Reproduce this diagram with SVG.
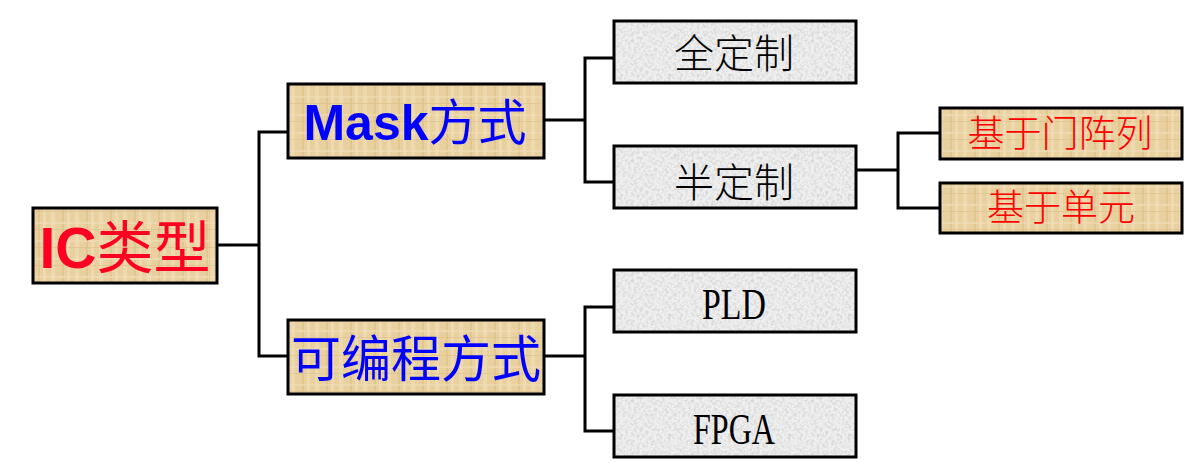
<svg xmlns="http://www.w3.org/2000/svg" width="1199" height="468" viewBox="0 0 1199 468">
<style>
.conn{fill:none;stroke:#000;stroke-width:3;stroke-linecap:square}
.box{stroke:#000;stroke-width:3}
.tan{fill:url(#papyrus)}
.gray{fill:url(#granite)}
.cjk{font-family:"Noto Sans CJK SC","Noto Sans",sans-serif}
.thin{font-weight:300}
.lat{font-family:"Liberation Sans",Arial,sans-serif;font-weight:bold}
.ser{font-family:"Liberation Serif","Times New Roman",serif}
</style>
<defs>
<pattern id="papyrus" patternUnits="userSpaceOnUse" width="24" height="18">
<rect width="24" height="18" fill="#E8D09F"/>
<rect x="3" width="4" height="18" fill="#EFDBB1" opacity="0.8"/>
<rect x="14" width="2" height="18" fill="#DDBF86" opacity="0.6"/>
<rect x="19" width="3" height="18" fill="#F2E0BC" opacity="0.6"/>
<rect y="6" width="24" height="2" fill="#F0DDB6" opacity="0.6"/>
<rect y="13" width="24" height="1" fill="#D9BC84" opacity="0.5"/>
</pattern>
<filter id="noise" x="0" y="0" width="100%" height="100%">
<feTurbulence type="fractalNoise" baseFrequency="0.35" numOctaves="2" seed="3" result="n"/>
<feColorMatrix in="n" type="matrix" values="0 0 0 0 0.62  0 0 0 0 0.62  0 0 0 0 0.62  0 0 0 -1.8 1.1" result="d"/>
<feComposite in="d" in2="SourceGraphic" operator="in"/>
</filter>
<pattern id="granite" patternUnits="userSpaceOnUse" width="60" height="60">
<rect width="60" height="60" fill="#EFEFEF"/>
<rect width="60" height="60" fill="#EFEFEF" filter="url(#noise)"/>
</pattern>
</defs>
<g id="connectors">
<path class="conn" d="M217,245 H259 M259,132 V356 M259,132 H287 M259,356 H287"/>
<path class="conn" d="M544,120 H585 M585,58 V182 M585,58 H614 M585,182 H614"/>
<path class="conn" d="M544,356 H585 M585,307 V431 M585,307 H614 M585,431 H614"/>
<path class="conn" d="M856,170 H898 M898,133 V208 M898,133 H940 M898,208 H940"/>
</g>
<g id="node-ic">
<rect class="box tan" x="33" y="208" width="184" height="75"/>
<text x="125" y="268" text-anchor="middle" fill="#FF0022"><tspan class="lat" font-size="57">IC</tspan><tspan class="cjk" font-size="57">类型</tspan></text>
</g>
<g id="node-mask">
<rect class="box tan" x="288" y="84" width="256" height="74"/>
<text x="415" y="140" text-anchor="middle" fill="#0000FF"><tspan class="lat" font-size="50">Mask</tspan><tspan class="cjk" font-size="49">方式</tspan></text>
</g>
<g id="node-prog">
<rect class="box tan" x="288" y="320" width="256" height="74"/>
<text class="cjk" x="416" y="377" text-anchor="middle" fill="#0000FF" font-size="50">可编程方式</text>
</g>
<g id="node-full">
<rect class="box gray" x="614" y="21" width="242" height="62"/>
<text class="cjk thin" x="734" y="68" text-anchor="middle" fill="#000" font-size="40">全定制</text>
</g>
<g id="node-semi">
<rect class="box gray" x="614" y="146" width="242" height="62"/>
<text class="cjk thin" x="734" y="197" text-anchor="middle" fill="#000" font-size="40">半定制</text>
</g>
<g id="node-pld">
<rect class="box gray" x="614" y="270" width="242" height="62"/>
<text class="ser" x="734" y="319" text-anchor="middle" fill="#000" font-size="44" textLength="64" lengthAdjust="spacingAndGlyphs">PLD</text>
</g>
<g id="node-fpga">
<rect class="box gray" x="614" y="395" width="242" height="62"/>
<text class="ser" x="734" y="444" text-anchor="middle" fill="#000" font-size="44" textLength="82" lengthAdjust="spacingAndGlyphs">FPGA</text>
</g>
<g id="node-gate">
<rect class="box tan" x="940" y="108" width="242" height="51"/>
<text class="cjk thin" x="1060" y="147" text-anchor="middle" fill="#FF0000" font-size="37">基于门阵列</text>
</g>
<g id="node-cell">
<rect class="box tan" x="940" y="183" width="242" height="50"/>
<text class="cjk thin" x="1061" y="221" text-anchor="middle" fill="#FF0000" font-size="37">基于单元</text>
</g>
</svg>
